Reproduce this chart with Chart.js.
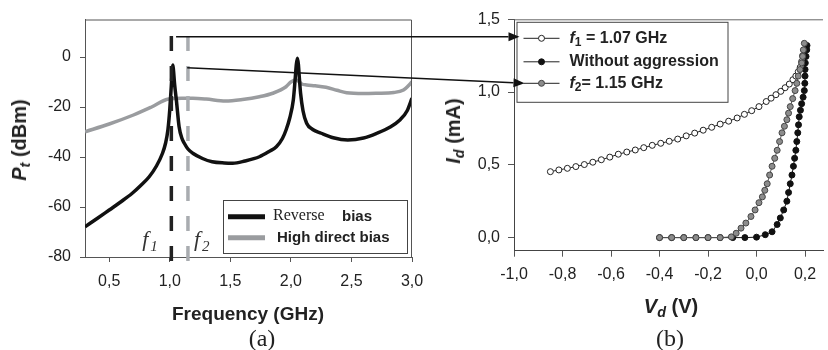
<!DOCTYPE html>
<html>
<head>
<meta charset="utf-8">
<script src="https://cdn.jsdelivr.net/npm/chart.js@4.4.1/dist/chart.umd.min.js"></script>
<style>
  body { margin: 0; background: #fff; }
  #wrap { position: relative; width: 828px; height: 350px; overflow: hidden; font-family: 'Liberation Sans', Arial, sans-serif; color: #222; }
  canvas { position: absolute; left: 0; top: 0; }
  .lbl { position: absolute; white-space: nowrap; transform: translate(-50%, -50%); font-weight: bold; font-size: 20px; line-height: 1; }
  .rot { transform: translate(-50%, -50%) rotate(-90deg); }
  .cap { font-family: 'Liberation Serif', 'Times New Roman', serif; font-weight: normal; font-size: 24px; }
  sub { font-size: 0.72em; vertical-align: -0.3em; line-height: 0; }
</style>
</head>
<body>
<div id="wrap">
  <canvas id="ptChart" width="828" height="350"></canvas>
  <canvas id="idChart" width="828" height="350"></canvas>
  <div class="lbl rot" style="left:19px; top:140px"><i>P</i><sub><i>t</i></sub> (dBm)</div>
  <div class="lbl" style="left:248px; top:313px; font-size:19px">Frequency (GHz)</div>
  <div class="lbl cap" style="left:262px; top:338px">(a)</div>
  <div class="lbl rot" style="left:453px; top:131px"><i>I</i><sub><i>d</i></sub> (mA)</div>
  <div class="lbl" style="left:671px; top:306px"><i>V</i><sub><i>d</i></sub> (V)</div>
  <div class="lbl cap" style="left:670px; top:338px">(b)</div>
</div>
<script>
// ---- (a) transmitted power vs frequency ----
const freqReverse = [0.30, 0.40, 0.50, 0.60, 0.69, 0.76, 0.83, 0.89, 0.94, 0.965, 0.985, 1.00, 1.012, 1.02, 1.025,
  1.03, 1.04, 1.055, 1.077, 1.10, 1.12, 1.15, 1.19, 1.27, 1.35, 1.45, 1.52, 1.62, 1.74, 1.82, 1.88, 1.93, 1.96,
  1.99, 2.02, 2.035, 2.045, 2.054, 2.062, 2.07, 2.08, 2.10, 2.13, 2.18, 2.25, 2.35, 2.47, 2.60, 2.71, 2.82, 2.90,
  2.96, 3.00];
const ptReverse = [-67.9, -64.6, -61.2, -57.8, -54.5, -51.4, -47.9, -43.6, -38.5, -34.5, -29, -21, -12, -5.5, -3.2,
  -5, -11, -17.5, -27.9, -32.5, -34.5, -36.8, -38.5, -40.6, -41.9, -42.4, -42.5, -41.6, -39.9, -37.8, -35.9, -32.6, -29.2,
  -24.5, -17.2, -9, -3, -0.5, -3, -8.5, -14.5, -21.5, -26.5, -29, -30.5, -32.3, -33.2, -32.4, -30.5, -28, -25.2,
  -21.5, -16.5];
const freqDirect = [0.30, 0.50, 0.70, 0.85, 0.99, 1.10, 1.19, 1.30, 1.46, 1.60, 1.74, 1.85, 1.96, 2.00, 2.045,
  2.09, 2.13, 2.20, 2.29, 2.38, 2.46, 2.60, 2.71, 2.85, 2.93, 2.97, 3.00];
const ptDirect = [-29.9, -26.8, -23.2, -20, -16.8, -16.5, -16.5, -16.8, -17.6, -17, -15.9, -14.5, -11.9, -10, -9.2,
  -10.8, -11.2, -11.5, -12.1, -13.3, -14.3, -14.6, -14.5, -14.2, -13.2, -11.5, -9.9];
const markFreqs = [1.013, 1.15];   // f1, f2 dashed lines
const markTop = 8.4;
const arrowFreqs = [1.052, 1.144];
const arrowPts = [8.1, -4.3];

// ---- (b) diode current vs voltage ----
const vdF1 = [-0.85, -0.815, -0.78, -0.745, -0.71, -0.675, -0.64, -0.605, -0.57, -0.535, -0.50, -0.465, -0.43,
  -0.395, -0.36, -0.325, -0.29, -0.255, -0.22, -0.185, -0.15, -0.115, -0.08, -0.05, -0.02, 0.01, 0.04, 0.06,
  0.08, 0.10, 0.118, 0.135, 0.15, 0.162, 0.172, 0.18, 0.186, 0.19];
const idF1 = [0.453, 0.465, 0.476, 0.488, 0.502, 0.518, 0.535, 0.553, 0.573, 0.588, 0.602, 0.618, 0.634,
  0.648, 0.662, 0.677, 0.699, 0.718, 0.738, 0.758, 0.78, 0.80, 0.822, 0.847, 0.872, 0.90, 0.935, 0.958,
  0.982, 1.005, 1.03, 1.055, 1.085, 1.11, 1.14, 1.17, 1.21, 1.25];
const vdRef = [-0.40, -0.35, -0.30, -0.25, -0.20, -0.15, -0.098, -0.048, 0.0, 0.036, 0.064, 0.085, 0.098, 0.112,
  0.125, 0.132, 0.139, 0.146, 0.152, 0.157, 0.162, 0.166, 0.17, 0.173, 0.176, 0.181, 0.186, 0.192, 0.197, 0.199,
  0.20, 0.20, 0.201, 0.204, 0.207, 0.208];
const idRef = [0, 0, 0, 0, 0, 0, 0, 0, 0.003, 0.02, 0.04, 0.09, 0.135, 0.19,
  0.25, 0.31, 0.37, 0.43, 0.49, 0.545, 0.60, 0.66, 0.72, 0.775, 0.83, 0.875, 0.92, 0.965, 1.01, 1.06,
  1.11, 1.155, 1.20, 1.245, 1.29, 1.32];
const vdF2 = [-0.40, -0.35, -0.30, -0.25, -0.20, -0.15, -0.104, -0.084, -0.064, -0.044, -0.023, -0.006, 0.01, 0.024,
  0.034, 0.044, 0.054, 0.064, 0.075, 0.085, 0.095, 0.105, 0.115, 0.125, 0.132, 0.139, 0.149, 0.159, 0.166, 0.172,
  0.179, 0.186, 0.19, 0.193, 0.197];
const idF2 = [0, 0, 0, 0, 0, 0, 0.005, 0.03, 0.065, 0.10, 0.145, 0.19, 0.24, 0.28,
  0.325, 0.37, 0.43, 0.49, 0.545, 0.60, 0.66, 0.72, 0.765, 0.81, 0.855, 0.90, 0.955, 1.01, 1.06, 1.11,
  1.155, 1.20, 1.245, 1.29, 1.335];

const SANS = "'Liberation Sans', Arial, sans-serif";
const SERIF = "'Liberation Serif', 'Times New Roman', serif";
const comma = v => v.toFixed(1).replace('.', ',');
const pts = (xs, ys) => xs.map((x, i) => ({ x: x, y: ys[i] }));

Chart.defaults.font.family = SANS;
Chart.defaults.font.size = 16;
Chart.defaults.color = '#222';

// frame, f1/f2 markers and legend of panel (a)
const panelA = {
  id: 'panelA',
  afterDatasetsDraw(chart) {
    const { ctx, chartArea: ca, scales: { x, y } } = chart;
    ctx.save();
    ctx.strokeStyle = '#555';
    ctx.lineWidth = 1;
    ctx.beginPath();
    ctx.moveTo(ca.left, ca.top + 0.5);
    ctx.lineTo(ca.right - 0.5, ca.top + 0.5);
    ctx.lineTo(ca.right - 0.5, ca.bottom);
    ctx.stroke();

    ctx.lineWidth = 3.5;
    ctx.setLineDash([15, 15]);
    markFreqs.forEach((f, i) => {
      const px = x.getPixelForValue(f);
      ctx.strokeStyle = i ? '#a9acb0' : '#222';
      ctx.beginPath();
      ctx.moveTo(px, y.getPixelForValue(markTop));
      ctx.lineTo(px, ca.bottom + 10);
      ctx.stroke();
    });
    ctx.setLineDash([]);

    // f1 / f2 labels
    ctx.fillStyle = '#333';
    ctx.textBaseline = 'alphabetic';
    [['1', -29], ['2', 6]].forEach(([s, dx], i) => {
      const px = x.getPixelForValue(markFreqs[i]) + dx;
      ctx.font = 'italic 22px ' + SERIF;
      ctx.fillText('f', px, 246);
      ctx.font = 'italic 15px ' + SERIF;
      ctx.fillText(s, px + 8, 251);
    });

    // legend
    const bx = ca.right - 189, by = ca.bottom - 57, bw = 184, bh = 53;
    ctx.fillStyle = '#fff';
    ctx.fillRect(bx, by, bw, bh);
    ctx.strokeStyle = '#444';
    ctx.lineWidth = 1;
    ctx.strokeRect(bx + 0.5, by + 0.5, bw, bh);
    ctx.lineWidth = 5;
    [['#111', 16.7], ['#9a9c9f', 37.7]].forEach(([c, dy]) => {
      ctx.strokeStyle = c;
      ctx.beginPath();
      ctx.moveTo(bx + 5, by + dy);
      ctx.lineTo(bx + 42, by + dy);
      ctx.stroke();
    });
    ctx.fillStyle = '#222';
    ctx.textBaseline = 'middle';
    ctx.font = '16px ' + SERIF;
    ctx.fillText('Reverse', bx + 50, by + 16);
    ctx.font = 'bold 15px ' + SANS;
    ctx.fillText('bias', bx + 119, by + 17);
    ctx.fillText('High direct bias', bx + 54, by + 38);
    ctx.restore();
  }
};

const ptChart = new Chart(document.getElementById('ptChart'), {
  type: 'scatter',
  data: {
    datasets: [{
      label: 'Reverse bias',
      data: pts(freqReverse, ptReverse),
      showLine: true,
      borderColor: '#111',
      borderWidth: 3.5,
      pointRadius: 0,
      cubicInterpolationMode: 'monotone'
    }, {
      label: 'High direct bias',
      data: pts(freqDirect, ptDirect),
      showLine: true,
      borderColor: '#9a9c9f',
      borderWidth: 3.5,
      pointRadius: 0,
      cubicInterpolationMode: 'monotone'
    }]
  },
  options: {
    responsive: false,
    animation: false,
    events: [],
    layout: { padding: { left: 0, top: 19.5, right: 416, bottom: 0 } },
    scales: {
      x: {
        type: 'linear', min: 0.3, max: 3.0,
        afterFit: s => { s.height = 93; },
        ticks: { stepSize: 0.5, includeBounds: false, padding: 10, callback: comma, maxRotation: 0 },
        grid: { drawOnChartArea: false, tickLength: 5, color: '#555' },
        border: { color: '#555' }
      },
      y: {
        min: -80, max: 15,
        afterFit: s => { s.width = 85; },
        ticks: { stepSize: 20, includeBounds: false, padding: 9 },
        grid: { drawOnChartArea: false, tickLength: 5, color: '#555' },
        border: { color: '#555' }
      }
    },
    plugins: { legend: { display: false }, tooltip: { enabled: false } }
  },
  plugins: [panelA]
});

function arrow(ctx, x0, y0, x1, y1) {
  const a = Math.atan2(y1 - y0, x1 - x0);
  const hl = 11, hw = 4.5;
  const bx = x1 - hl * Math.cos(a), by = y1 - hl * Math.sin(a);
  ctx.beginPath();
  ctx.moveTo(x0, y0);
  ctx.lineTo(bx, by);
  ctx.stroke();
  ctx.beginPath();
  ctx.moveTo(x1, y1);
  ctx.lineTo(bx + hw * Math.sin(a), by - hw * Math.cos(a));
  ctx.lineTo(bx - hw * Math.sin(a), by + hw * Math.cos(a));
  ctx.closePath();
  ctx.fill();
}

// top line, legend of panel (b) and the arrows linking both panels
const panelB = {
  id: 'panelB',
  afterDraw(chart) {
    const { ctx, chartArea: ca } = chart;
    ctx.save();
    ctx.strokeStyle = '#666';
    ctx.lineWidth = 1;
    ctx.beginPath();
    ctx.moveTo(ca.left, ca.top + 0.5);
    ctx.lineTo(ca.right, ca.top + 0.5);
    ctx.stroke();

    const bx = ca.left + 2.5, by = ca.top + 2.5, bw = 211, bh = 80;
    ctx.fillStyle = '#fff';
    ctx.fillRect(bx, by, bw, bh);
    ctx.strokeStyle = '#444';
    ctx.strokeRect(bx + 0.5, by + 0.5, bw, bh);
    const rows = [16.5, 40, 61.5];
    chart.data.datasets.forEach((ds, i) => {
      const yy = by + rows[i];
      ctx.strokeStyle = '#222';
      ctx.lineWidth = 1;
      ctx.beginPath();
      ctx.moveTo(bx + 7, yy);
      ctx.lineTo(bx + 43, yy);
      ctx.stroke();
      ctx.beginPath();
      ctx.arc(bx + 25, yy, 3, 0, Math.PI * 2);
      ctx.fillStyle = ds.pointBackgroundColor;
      ctx.fill();
      ctx.strokeStyle = ds.pointBorderColor;
      ctx.stroke();
      ctx.fillStyle = '#222';
      ctx.textBaseline = 'middle';
      let tx = bx + 53;
      if (ds.fSub) {
        ctx.font = 'italic bold 16px ' + SANS;
        ctx.fillText('f', tx, yy);
        tx += ctx.measureText('f').width;
        ctx.font = 'bold 12px ' + SANS;
        ctx.fillText(ds.fSub, tx, yy + 4);
        tx += ctx.measureText(ds.fSub).width;
      }
      ctx.font = 'bold 16px ' + SANS;
      ctx.fillText(ds.label, tx, yy);
    });

    // arrows from the f1 / f2 markers of panel (a)
    const sa = ptChart.scales;
    const ends = [[bx + 3, by + rows[0] - 1.5], [bx + 8, by + rows[2]]];
    ctx.strokeStyle = '#111';
    ctx.fillStyle = '#111';
    ctx.lineWidth = 1.6;
    ends.forEach(([ex, ey], i) => {
      arrow(ctx, sa.x.getPixelForValue(arrowFreqs[i]), sa.y.getPixelForValue(arrowPts[i]), ex, ey);
    });
    ctx.restore();
  }
};

new Chart(document.getElementById('idChart'), {
  type: 'scatter',
  data: {
    datasets: [{
      label: ' = 1.07 GHz', fSub: '1',
      data: pts(vdF1, idF1),
      showLine: true, borderColor: '#222', borderWidth: 1,
      pointRadius: 3, pointBorderWidth: 1,
      pointBackgroundColor: '#fff', pointBorderColor: '#222',
      order: 1
    }, {
      label: 'Without aggression',
      data: pts(vdRef, idRef),
      showLine: true, borderColor: '#111', borderWidth: 1,
      pointRadius: 3, pointBorderWidth: 1,
      pointBackgroundColor: '#111', pointBorderColor: '#111',
      order: 2
    }, {
      label: '= 1.15 GHz', fSub: '2',
      data: pts(vdF2, idF2),
      showLine: true, borderColor: '#555', borderWidth: 1,
      pointRadius: 3, pointBorderWidth: 1,
      pointBackgroundColor: '#8c8c8c', pointBorderColor: '#444',
      order: 0
    }]
  },
  options: {
    responsive: false,
    animation: false,
    events: [],
    layout: { padding: { left: 430, top: 19.3, right: 0, bottom: 0 } },
    scales: {
      x: {
        type: 'linear', min: -1.0, max: 0.274,
        afterFit: s => { s.height = 99.3; },
        ticks: { stepSize: 0.2, includeBounds: false, padding: 8, callback: comma, maxRotation: 0 },
        grid: { drawOnChartArea: false, tickLength: 6, color: '#555' },
        border: { color: '#444' }
      },
      y: {
        min: -0.09, max: 1.5,
        afterFit: s => { s.width = 84; },
        ticks: { stepSize: 0.5, includeBounds: false, padding: 8, callback: comma },
        grid: { drawOnChartArea: false, tickLength: 6, color: '#555' },
        border: { color: '#444' }
      }
    },
    plugins: { legend: { display: false }, tooltip: { enabled: false } }
  },
  plugins: [panelB]
});
</script>
</body>
</html>
